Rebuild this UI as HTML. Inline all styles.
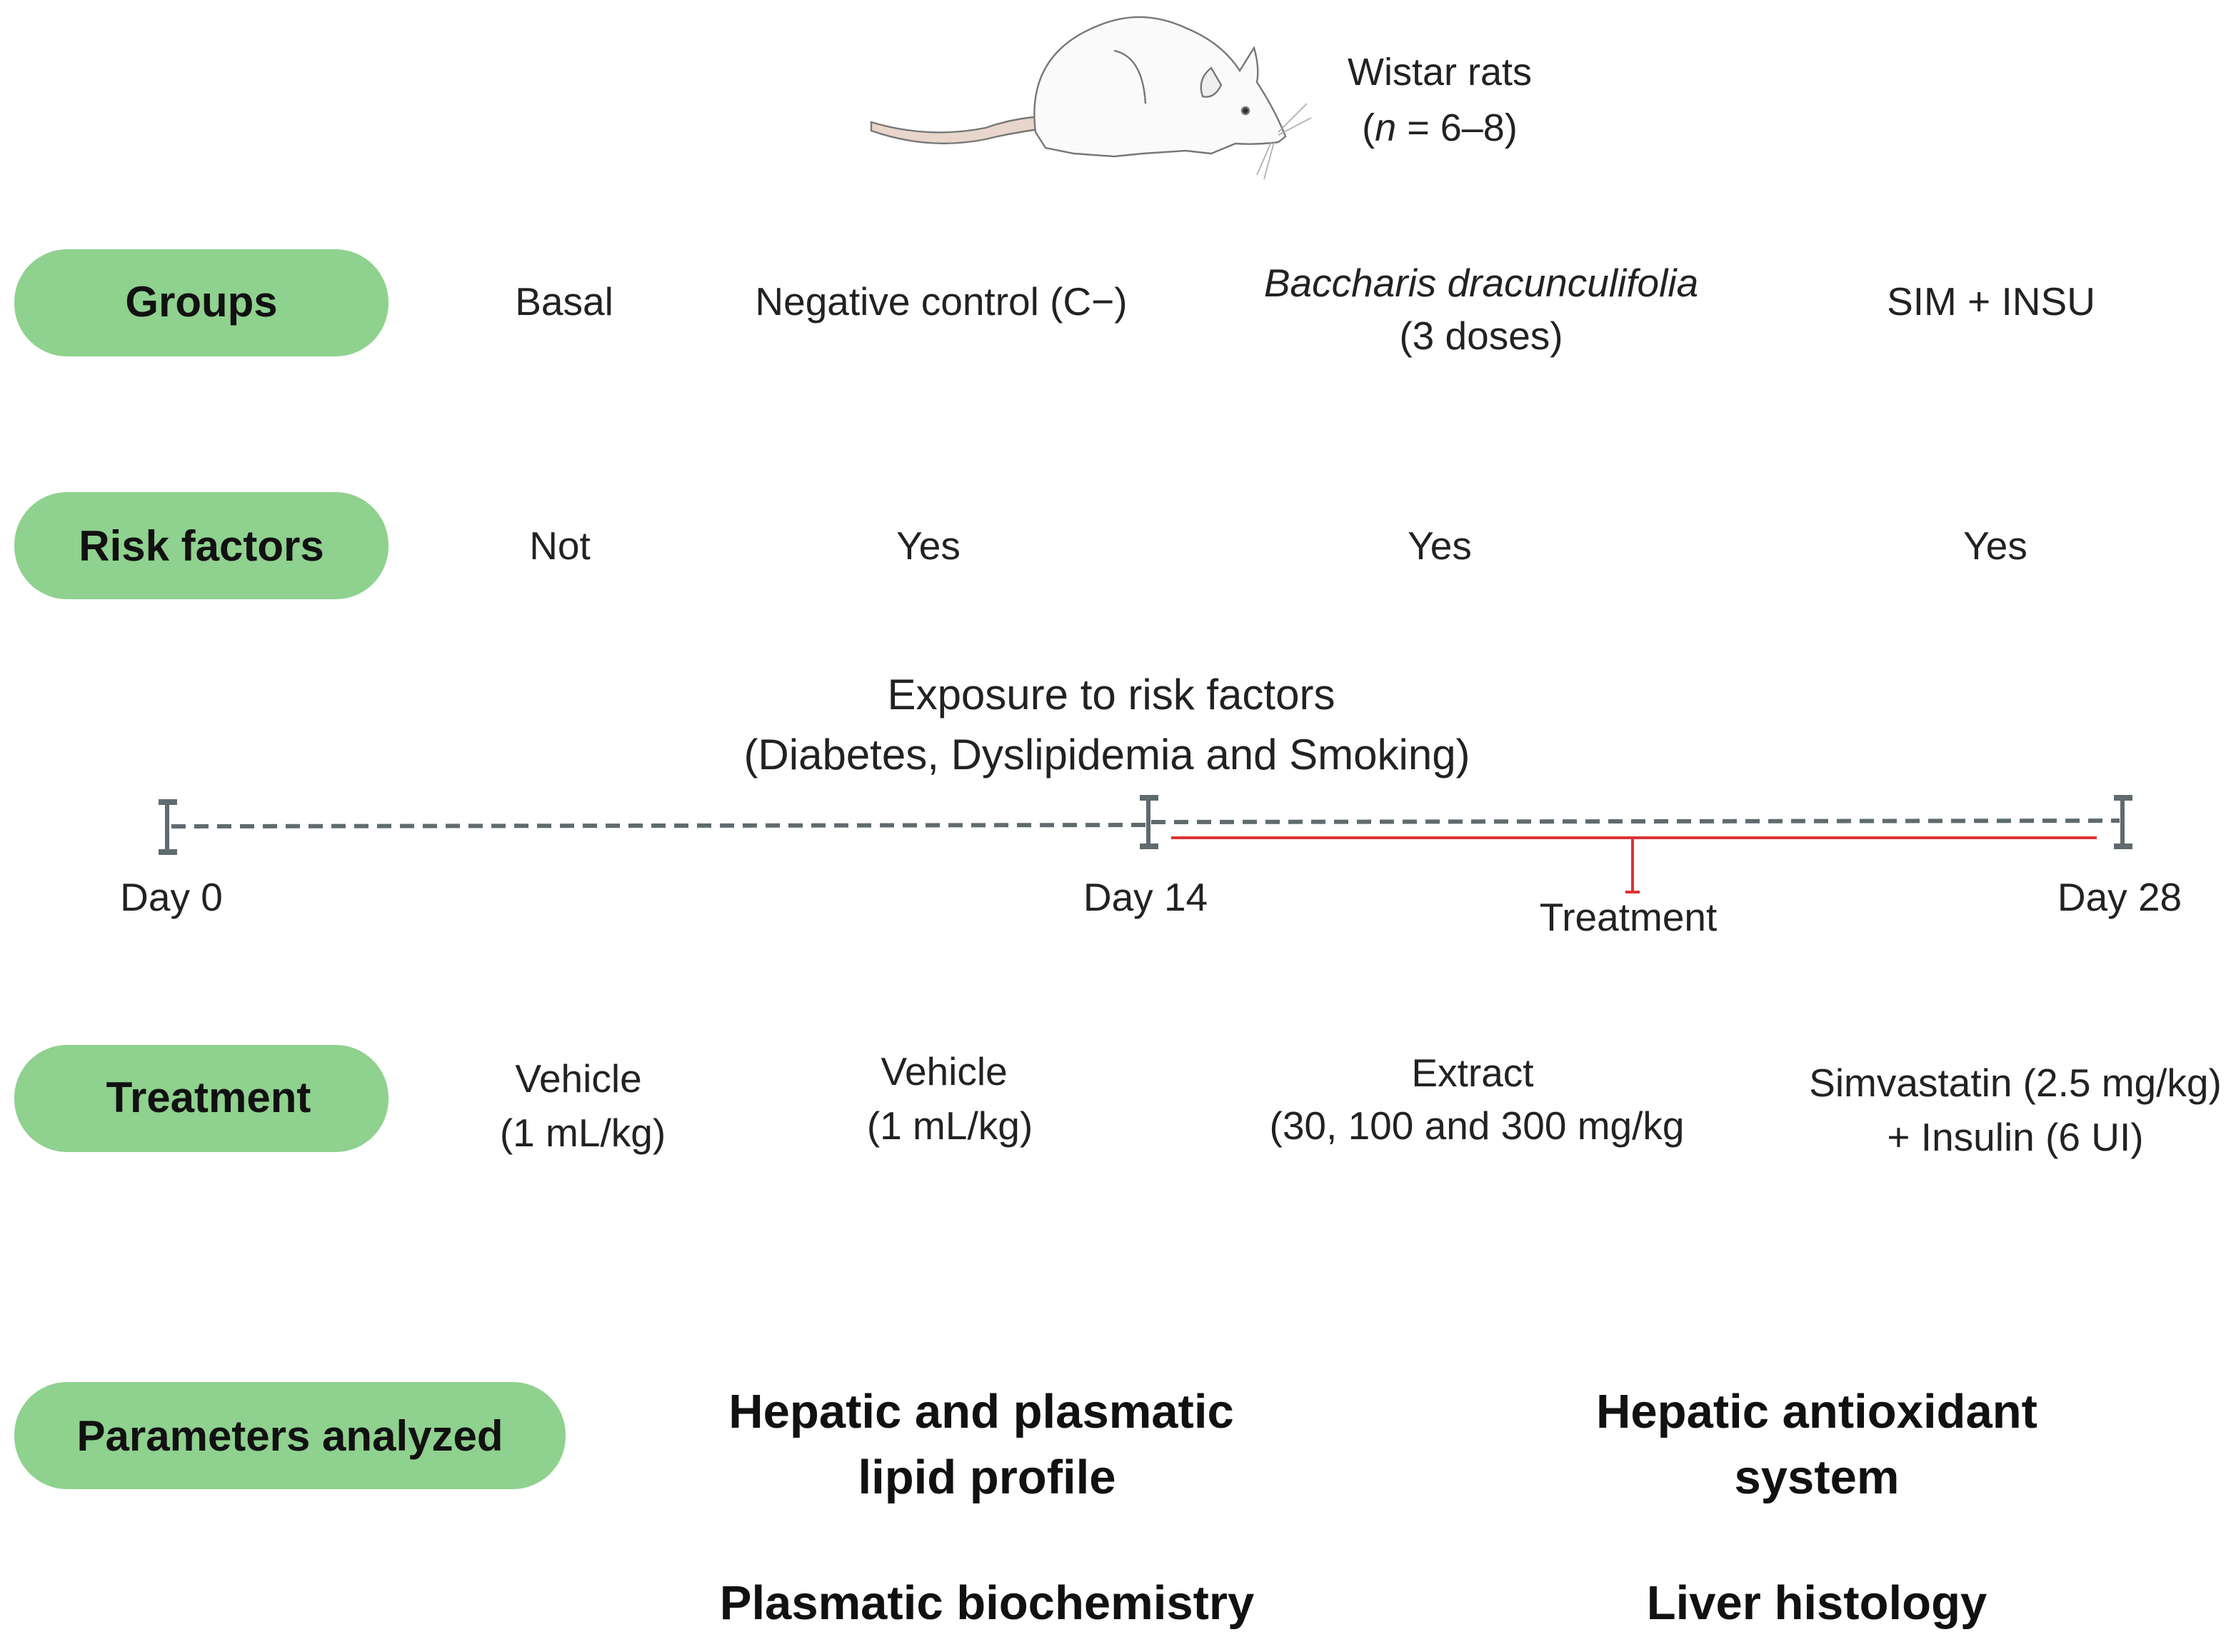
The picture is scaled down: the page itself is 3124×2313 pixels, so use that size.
<!DOCTYPE html>
<html><head><meta charset="utf-8"><style>
html,body{margin:0;padding:0;background:#fff}
svg{display:block}
text{font-family:"Liberation Sans",sans-serif;fill:#222}
.b{font-weight:bold;fill:#111}
</style></head><body>
<svg width="3124" height="2313" viewBox="0 0 1562 1156.5" xmlns="http://www.w3.org/2000/svg">
<g transform="translate(0,-2.5)">
<!-- rat -->
<g stroke="#777" stroke-width="1.2">
<path d="M610 88 Q650 100 690 92 Q710 85 730 84 L735 92 Q710 95 690 100 Q650 108 610 94 Z" fill="#e8d6cc"/>
<path d="M725 95 Q718 40 770 20 Q800 8 830 22 Q855 32 868 52 L878 36 Q882 50 880 60 Q893 80 900 98 L895 102 Q880 104 865 103 L848 110 L830 108 L800 110 L780 112 L752 110 L732 106 Z" fill="#fafafa"/>
<path d="M848 50 Q838 58 842 70 Q850 72 855 62 Z" fill="#eee"/>
<circle cx="872" cy="80" r="2.5" fill="#333"/>
<path d="M780 38 Q800 42 802 75" fill="none"/>
<path d="M895 95 L915 75 M895 97 L918 85 M890 102 L880 125 M892 102 L885 128" fill="none" stroke="#aaa" stroke-width="0.8"/>
</g>
<text x="1008" y="62" font-size="27" text-anchor="middle">Wistar rats</text>
<text x="1008" y="101" font-size="27" text-anchor="middle">(<tspan font-style="italic">n</tspan> = 6–8)</text>

<!-- pills -->
<g fill="#8fd18f">
<rect x="10" y="177" width="262" height="75" rx="37"/>
<rect x="10" y="347" width="262" height="75" rx="37"/>
<rect x="10" y="734" width="262" height="75" rx="37"/>
<rect x="10" y="970" width="386" height="75" rx="37"/>
</g>
<text class="b" x="141" y="224" font-size="30" text-anchor="middle">Groups</text>
<text class="b" x="141" y="395" font-size="30" text-anchor="middle">Risk factors</text>
<text class="b" x="146" y="781" font-size="30" text-anchor="middle">Treatment</text>
<text class="b" x="203" y="1018" font-size="30" text-anchor="middle">Parameters analyzed</text>

<g font-size="27.5" text-anchor="middle">
<text x="395" y="223">Basal</text>
<text x="659" y="223">Negative control (C−)</text>
<text x="1037" y="210" font-style="italic">Baccharis dracunculifolia</text>
<text x="1037" y="247">(3 doses)</text>
<text x="1394" y="223">SIM + INSU</text>
<text x="392" y="394">Not</text>
<text x="650" y="394">Yes</text>
<text x="1008" y="394">Yes</text>
<text x="1397" y="394">Yes</text>
<text x="778" y="499" font-size="30">Exposure to risk factors</text>
<text x="775" y="541" font-size="30">(Diabetes, Dyslipidemia and Smoking)</text>
<text x="120" y="640">Day 0</text>
<text x="802" y="640">Day 14</text>
<text x="1140" y="654">Treatment</text>
<text x="1484" y="640">Day 28</text>
<text x="405" y="767">Vehicle</text>
<text x="408" y="805">(1 mL/kg)</text>
<text x="661" y="762">Vehicle</text>
<text x="665" y="800">(1 mL/kg)</text>
<text x="1031" y="763">Extract</text>
<text x="1034" y="800">(30, 100 and 300 mg/kg</text>
<text x="1411" y="770">Simvastatin (2.5 mg/kg)</text>
<text x="1411" y="808">+ Insulin (6 UI)</text>
</g>
<g font-size="33.5" text-anchor="middle">
<text class="b" x="687" y="1002">Hepatic and plasmatic</text>
<text class="b" x="691" y="1048">lipid profile</text>
<text class="b" x="1272" y="1002">Hepatic antioxidant</text>
<text class="b" x="1272" y="1048">system</text>
<text class="b" x="691" y="1136">Plasmatic biochemistry</text>
<text class="b" x="1272" y="1136">Liver histology</text>
</g>

<!-- timeline -->
<g stroke="#5f6b6e" fill="none">
<line x1="120" y1="581" x2="804" y2="580" stroke-width="3" stroke-dasharray="10 6"/>
<line x1="806" y1="578" x2="1484" y2="577" stroke-width="3" stroke-dasharray="10 6"/>
<g stroke-width="3">
<line x1="117" y1="564" x2="117" y2="599"/><line x1="111" y1="564" x2="124" y2="564" stroke-width="4"/><line x1="111" y1="599" x2="124" y2="599" stroke-width="4"/>
<line x1="804" y1="561" x2="804" y2="595"/><line x1="798" y1="561" x2="811" y2="561" stroke-width="4"/><line x1="798" y1="595" x2="811" y2="595" stroke-width="4"/>
<line x1="1486" y1="561" x2="1486" y2="595"/><line x1="1480" y1="561" x2="1493" y2="561" stroke-width="4"/><line x1="1480" y1="595" x2="1493" y2="595" stroke-width="4"/>
</g>
</g>
<g stroke="#d33" stroke-width="2" fill="none">
<line x1="820" y1="589" x2="1468" y2="589"/>
<line x1="1143" y1="589" x2="1143" y2="627"/>
<line x1="1138" y1="627" x2="1148" y2="627"/>
</g>
</g>
</svg>
</body></html>
